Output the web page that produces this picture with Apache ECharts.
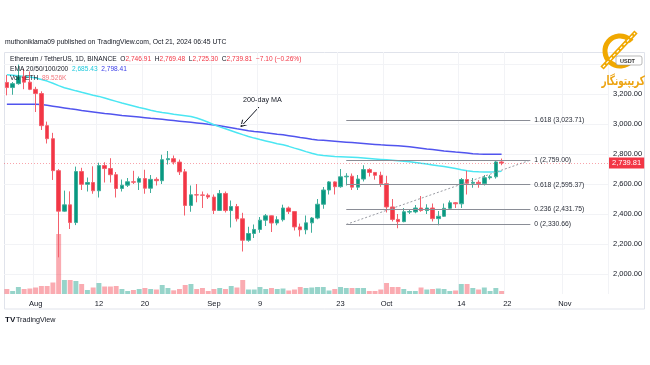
<!DOCTYPE html>
<html><head><meta charset="utf-8">
<script src="https://cdn.jsdelivr.net/npm/echarts@6/dist/echarts.min.js"></script>
<style>html,body{margin:0;padding:0;background:#fff}#c{width:650px;height:365px}</style>
</head><body><div id="c"></div>
<script>
// ---- axis domain: daily categories Jul 27 .. Nov 8, 2024 ----
const firstDay = '2024-07-27', lastDay = '2024-11-08';
const days = [];
for (let d = new Date(firstDay + 'T00:00:00Z'); d <= new Date(lastDay + 'T00:00:00Z'); d.setUTCDate(d.getUTCDate() + 1)) {
  days.push(d.toISOString().slice(0, 10));
}
// ---- tick labels ----
const xTickDates  = ['2024-08-01','2024-08-12','2024-08-20','2024-09-01','2024-09-09','2024-09-23','2024-10-01','2024-10-14','2024-10-22','2024-11-01'];
const xTickLabels = ['Aug','12','20','Sep','9','23','Oct','14','22','Nov'];
const priceTicks  = [2000, 2200, 2400, 2600, 2800, 3000, 3200];

// ---- daily candles Jul 27 .. Oct 21 ----
const open  = [3277,3243,3269,3318,3279,3231,3203,2989,2902,2689,2419,2461,2343,2683,2598,2610,2555,2723,2703,2662,2570,2592,2615,2612,2636,2572,2631,2622,2762,2769,2746,2681,2457,2528,2527,2525,2513,2424,2537,2423,2450,2368,2225,2270,2297,2359,2388,2340,2362,2440,2416,2314,2295,2341,2373,2465,2560,2614,2582,2648,2652,2579,2633,2696,2677,2658,2602,2447,2364,2349,2413,2414,2440,2423,2440,2369,2385,2438,2475,2468,2630,2605,2611,2603,2642,2648,2746.91];
const high  = [3327,3280,3396,3366,3350,3248,3218,3016,2941,2699,2556,2551,2716,2708,2643,2718,2742,2745,2772,2680,2630,2640,2688,2650,2695,2660,2645,2795,2820,2790,2763,2700,2590,2600,2550,2537,2530,2560,2550,2490,2467,2408,2315,2330,2380,2400,2390,2385,2462,2450,2420,2336,2390,2380,2500,2580,2620,2618,2700,2672,2670,2660,2725,2705,2680,2682,2655,2500,2400,2440,2430,2460,2520,2465,2470,2420,2470,2490,2480,2640,2688,2640,2625,2660,2660,2760,2769.48];
const low   = [3191,3195,3262,3232,3226,3080,2960,2870,2627,2111,2415,2300,2326,2560,2550,2535,2510,2610,2610,2510,2550,2580,2600,2560,2535,2540,2590,2600,2730,2730,2660,2390,2415,2478,2440,2500,2400,2420,2410,2310,2350,2150,2215,2240,2275,2320,2280,2325,2350,2400,2290,2250,2265,2275,2365,2435,2530,2530,2575,2590,2560,2560,2617,2650,2629,2581,2410,2350,2305,2345,2400,2405,2415,2400,2350,2325,2380,2428,2440,2440,2530,2575,2575,2590,2630,2636,2725.30];
const close = [3243,3269,3318,3279,3231,3203,2989,2902,2689,2419,2461,2343,2683,2598,2610,2555,2723,2703,2662,2570,2592,2615,2612,2636,2572,2631,2622,2762,2769,2746,2681,2457,2528,2527,2525,2513,2424,2537,2423,2450,2368,2225,2270,2297,2359,2388,2340,2362,2440,2416,2314,2295,2341,2373,2465,2560,2614,2582,2648,2652,2579,2633,2696,2677,2658,2602,2447,2364,2349,2415,2416,2440,2423,2440,2369,2385,2438,2475,2468,2630,2605,2611,2603,2642,2648,2747,2739.81];
// volume, thousands of ETH
const volume = [150,90,210,150,165,195,240,240,345,1800,420,420,390,300,120,195,330,225,225,240,150,90,120,150,180,150,135,270,180,110,150,270,300,150,180,90,150,180,150,240,195,420,135,135,210,150,180,150,165,105,135,210,180,195,210,210,105,150,210,180,180,180,180,90,90,135,330,210,210,150,90,90,195,135,150,165,150,90,105,300,300,180,135,195,90,180,89.5];
// moving averages
const emaCyan = [3329,3325,3321,3317,3313,3306,3296,3286,3272,3256,3242,3232,3221,3211,3202,3192,3184,3173,3162,3151,3140,3130,3120,3110,3101,3092,3084,3077,3071,3065,3060,3055,3050,3040,3027,3012,2995,2981,2968,2955,2942,2929,2917,2906,2896,2887,2878,2869,2861,2851,2839,2828,2816,2805,2795,2790,2787,2784,2782,2780,2778,2776,2773,2770,2767,2764,2761,2758,2755,2752,2749,2744,2738,2733,2727,2721,2716,2710,2703,2695,2689,2684,2681,2680,2680,2682,2685];
const emaBlue = [3131,3131,3132,3132,3132,3131,3130,3125,3119,3113,3107,3101,3096,3090,3085,3080,3075,3070,3066,3062,3057,3054,3050,3046,3042,3038,3035,3031,3027,3023,3019,3015,3011,3007,3003,2998,2994,2988,2982,2975,2968,2962,2955,2950,2946,2941,2937,2932,2928,2922,2916,2910,2905,2899,2894,2891,2888,2885,2882,2879,2876,2873,2870,2867,2864,2861,2859,2857,2855,2852,2849,2844,2839,2834,2830,2825,2820,2817,2813,2810,2806,2802,2800,2799,2798,2798,2798];
// fibonacci retracement drawing
const fibRatios = ['1.618','1','0.618','0.236','0'];
const fibPrices = [3023.71, 2759.00, 2595.37, 2431.75, 2330.66];
const fibStart = '2024-09-24', fibEnd = '2024-10-26';
const lastPrice = 2739.81;

const UP = '#089981', DOWN = '#f23645';
const fmt = v => v.toLocaleString('en-US', {minimumFractionDigits: 2, maximumFractionDigits: 2});
const tickSet = new Set(xTickDates);

const candleData = open.map((o, i) => [o, close[i], low[i], high[i]]);
const volData = volume.map((v, i) => ({value: v, itemStyle: {color: close[i] >= open[i] ? 'rgba(8,153,129,0.42)' : 'rgba(242,54,69,0.42)'}}));

const fibLines = fibPrices.map((p, k) => [
  {coord: [fibStart, p], lineStyle: {color: '#8a8d96', width: 1, type: 'solid'},
   label: {show: true, position: 'end', distance: 4, formatter: fibRatios[k] + ' (' + fmt(p) + ')', color: '#2a2e39', fontSize: 6.8, fontFamily: 'Liberation Sans'}},
  {coord: [fibEnd, p]}
]);
fibLines.push([
  {coord: [fibStart, fibPrices[4]], lineStyle: {color: '#9a9ca4', width: 1, type: [2, 2]}, label: {show: false}},
  {coord: [fibEnd, fibPrices[1]]}
]);
fibLines.push({
  yAxis: lastPrice, lineStyle: {color: 'rgba(242,54,69,0.45)', width: 1, type: [1, 2]},
  label: {show: true, position: 'end', distance: 1, formatter: fmt(lastPrice), color: '#fff', backgroundColor: DOWN,
          padding: [2, 3, 1, 3], fontSize: 7.5, fontFamily: 'Liberation Sans'}
});

const chart = echarts.init(document.getElementById('c'), null, {renderer: 'canvas'});
const gridL = 4, gridR = 42;
chart.setOption({
  animation: false,
  backgroundColor: '#fff',
  grid: [
    {left: gridL, right: gridR, top: 52, bottom: 61},
    {left: gridL, right: gridR, top: 52, bottom: 71}
  ],
  xAxis: [
    {type: 'category', data: days, gridIndex: 0, boundaryGap: true, show: false},
    {type: 'category', data: days, gridIndex: 1, boundaryGap: true,
     axisLine: {show: false}, axisTick: {show: false},
     axisLabel: {interval: (i, v) => tickSet.has(v), formatter: v => xTickLabels[xTickDates.indexOf(v)],
                 color: '#131722', fontSize: 7.5, margin: 6, fontFamily: 'Liberation Sans'},
     splitLine: {show: true, interval: (i, v) => tickSet.has(v), lineStyle: {color: '#f2f3f6', width: 1}}}
  ],
  yAxis: [
    {type: 'value', gridIndex: 0, position: 'right', min: 1800, max: 3480, interval: 200,
     axisLine: {show: false}, axisTick: {show: false},
     axisLabel: {formatter: v => priceTicks.includes(v) ? fmt(v) : '', color: '#131722', fontSize: 7.5, margin: 5, fontFamily: 'Liberation Sans'},
     splitLine: {show: true, showMinLine: false, showMaxLine: false, lineStyle: {color: '#f2f3f6', width: 1}}},
    {type: 'value', gridIndex: 1, min: 0, max: 7260, show: false, splitLine: {show: false}}
  ],
  series: [
    {type: 'bar', xAxisIndex: 1, yAxisIndex: 1, data: volData, barWidth: '86%', z: 1, silent: true},
    {type: 'line', xAxisIndex: 0, yAxisIndex: 0, data: emaBlue, showSymbol: false, z: 3,
     lineStyle: {color: '#5154ee', width: 1.5}, silent: true},
    {type: 'line', xAxisIndex: 0, yAxisIndex: 0, data: emaCyan, showSymbol: false, z: 3,
     lineStyle: {color: '#4be6f2', width: 1.5}, silent: true},
    {type: 'candlestick', xAxisIndex: 0, yAxisIndex: 0, data: candleData, barWidth: 4, z: 4,
     itemStyle: {color: UP, color0: DOWN, borderColor: '#3fae9b', borderColor0: '#f4606d', borderWidth: 1},
     markLine: {silent: true, symbol: ['none', 'none'], animation: false, data: fibLines}}
  ],
  graphic: [
    {type: 'rect', shape: {x: 4.5, y: 52.5, width: 640, height: 256.5}, style: {fill: 'none', stroke: '#e0e3eb', lineWidth: 1}, z: 0, silent: true},
    {type: 'text', left: 5, top: 39, style: {text: 'muthoniklama09 published on TradingView.com, Oct 21, 2024 06:45 UTC', fill: '#131722', fontSize: 6.8, fontFamily: 'Liberation Sans'}},
    {type: 'text', left: 10, top: 56, z: 10, style: {
      text: 'Ethereum / TetherUS, 1D, BINANCE  O{r|2,746.91}  H{r|2,769.48}  L{r|2,725.30}  C{r|2,739.81}  {r|\u22127.10 (\u22120.26%)}',
      fill: '#131722', fontSize: 6.6, fontFamily: 'Liberation Sans',
      rich: {r: {fill: DOWN, fontSize: 6.6, fontFamily: 'Liberation Sans'}}}},
    {type: 'text', left: 10, top: 65.5, z: 10, style: {
      text: 'EMA 20/50/100/200  {c|2,685.43}  {b|2,798.41}', fill: '#131722', fontSize: 6.6, fontFamily: 'Liberation Sans',
      rich: {c: {fill: '#1fc9dc', fontSize: 6.6, fontFamily: 'Liberation Sans'}, b: {fill: '#3d40e8', fontSize: 6.6, fontFamily: 'Liberation Sans'}}}},
    {type: 'text', left: 10, top: 74.5, z: 10, style: {
      text: 'Vol \u00b7 ETH  {r|89.526K}', fill: '#131722', fontSize: 6.6, fontFamily: 'Liberation Sans',
      rich: {r: {fill: '#f2787f', fontSize: 6.6, fontFamily: 'Liberation Sans'}}}},
    // 200-day MA annotation
    {type: 'text', left: 243, top: 97, style: {text: '200-day MA', fill: '#131722', fontSize: 7.2, fontFamily: 'Liberation Sans'}},
    {type: 'polyline', shape: {points: [[259, 107], [241, 126.5]]}, style: {stroke: '#131722', lineWidth: 1, fill: 'none'}},
    {type: 'polyline', shape: {points: [[247.7, 124.5], [241, 126.5], [242.6, 119.7]]}, style: {stroke: '#131722', lineWidth: 1, fill: 'none'}},
    // TradingView footer
    {type: 'text', left: 5, top: 316, style: {text: 'TV', fill: '#131722', fontSize: 8, fontWeight: 'bold', fontFamily: 'Liberation Sans'}},
    {type: 'text', left: 16, top: 316.5, style: {text: 'TradingView', fill: '#131722', fontSize: 7.2, fontFamily: 'Liberation Sans'}},
    // publisher watermark (top right)
    {type: 'arc', shape: {cx: 620, cy: 51, r: 15, startAngle: Math.PI * 0.22, endAngle: Math.PI * 1.78, clockwise: true},
     style: {stroke: '#f0a800', lineWidth: 5, fill: 'none'}, z: 20},
    {type: 'line', shape: {x1: 602, y1: 68, x2: 636, y2: 32}, style: {stroke: '#f0a800', lineWidth: 4.5}, z: 20},
    {type: 'line', shape: {x1: 603, y1: 67, x2: 635, y2: 33}, style: {stroke: '#ffffff', lineWidth: 1.2, lineDash: [3, 2]}, z: 21},
    {type: 'rect', shape: {x: 616, y: 56, width: 26, height: 9, r: 2}, style: {fill: '#fff', stroke: '#8a8a8a', lineWidth: 0.6}, z: 22},
    {type: 'text', left: 620, top: 58, z: 23, style: {text: 'USDT', fill: '#333', fontSize: 5.5, fontWeight: 'bold', fontFamily: 'Liberation Sans'}},
    {type: 'text', x: 645, y: 82, scaleX: 0.68, z: 20, style: {text: 'کریپتونگار', fill: '#eda412', fontSize: 13, fontWeight: 'bold', fontFamily: 'DejaVu Sans', align: 'right', verticalAlign: 'middle'}}
  ]
});
</script>
</body></html>
